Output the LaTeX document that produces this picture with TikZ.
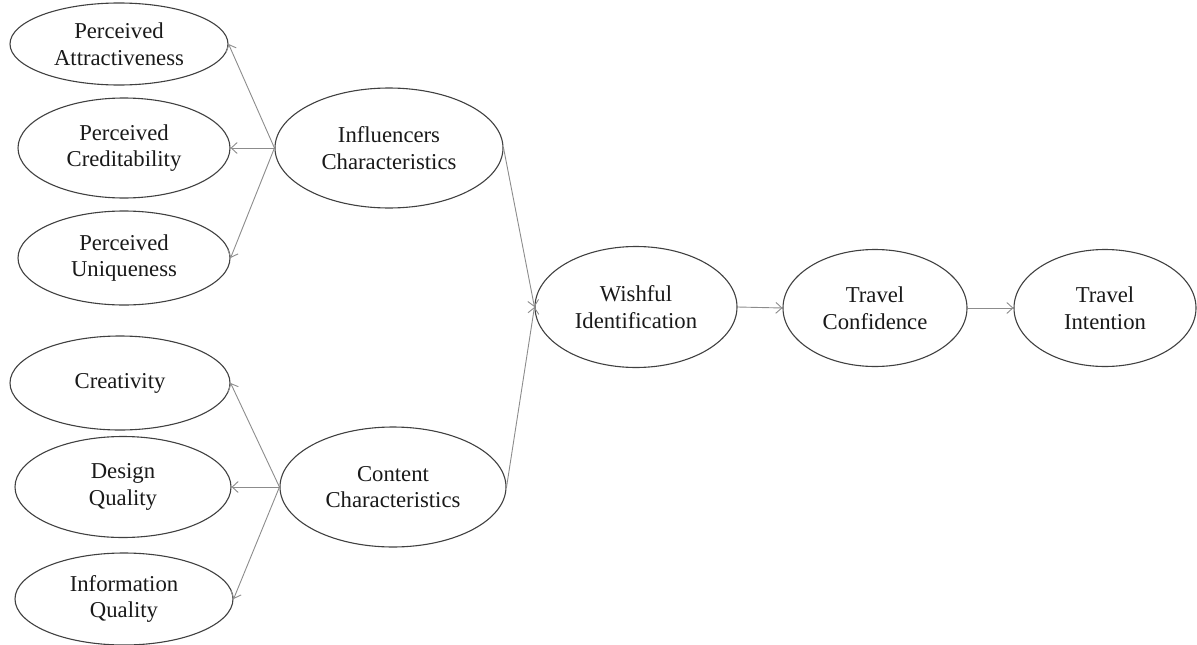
\documentclass[tikz,border=0pt]{standalone}
\usepackage{fontspec}
\setmainfont{Liberation Serif}
\usetikzlibrary{shapes.geometric,arrows.meta}
\begin{document}
\begin{tikzpicture}[x=1pt,y=-1pt,
  construct/.style={ellipse, draw=black!75, line width=1.1pt, inner sep=0pt,
    align=center, text=black!90, font=\fontsize{22.7}{26.5}\selectfont},
  link/.style={draw=black!45, line width=0.9pt,
    -{Straight Barb[length=6pt,width=11pt]}}]
\useasboundingbox (0,0) rectangle (1197,645);

% first-order constructs: influencer side
\node[construct, minimum width=218pt, minimum height=82pt] (pa) at (119,44) {Perceived\\Attractiveness};
\node[construct, minimum width=212pt, minimum height=100pt] (pc) at (124,148) {Perceived\\Creditability};
\node[construct, minimum width=212pt, minimum height=94pt] (pu) at (124,258) {Perceived\\Uniqueness};

% first-order constructs: content side
\node[construct, minimum width=220pt, minimum height=94pt] (cr) at (120,383) {Creativity};
\node[construct, minimum width=216pt, minimum height=101pt] (dq) at (123,487) {Design\\Quality};
\node[construct, minimum width=218pt, minimum height=92pt] (iq) at (124,599) {Information\\Quality};

% second-order constructs
\node[construct, minimum width=228pt, minimum height=120pt] (infl) at (389,148) {Influencers\\Characteristics};
\node[construct, minimum width=226pt, minimum height=120pt] (cont) at (393,487) {Content\\Characteristics};

% outcome chain
\node[construct, minimum width=202pt, minimum height=121pt] (wi) at (636,307) {Wishful\\Identification};
\node[construct, minimum width=184pt, minimum height=117pt] (tc) at (875,308) {Travel\\Confidence};
\node[construct, minimum width=182pt, minimum height=117pt] (ti) at (1105,308) {Travel\\Intention};

% reflective indicators
\draw[link] (infl.west) -- (pa.east);
\draw[link] (infl.west) -- (pc.east);
\draw[link] (infl.west) -- (pu.east);
\draw[link] (cont.west) -- (cr.east);
\draw[link] (cont.west) -- (dq.east);
\draw[link] (cont.west) -- (iq.east);

% structural paths
\draw[link] (infl.east) -- (wi.west);
\draw[link] (cont.east) -- (wi.west);
\draw[link] (wi.east) -- (tc.west);
\draw[link] (tc.east) -- (ti.west);
\end{tikzpicture}
\end{document}
